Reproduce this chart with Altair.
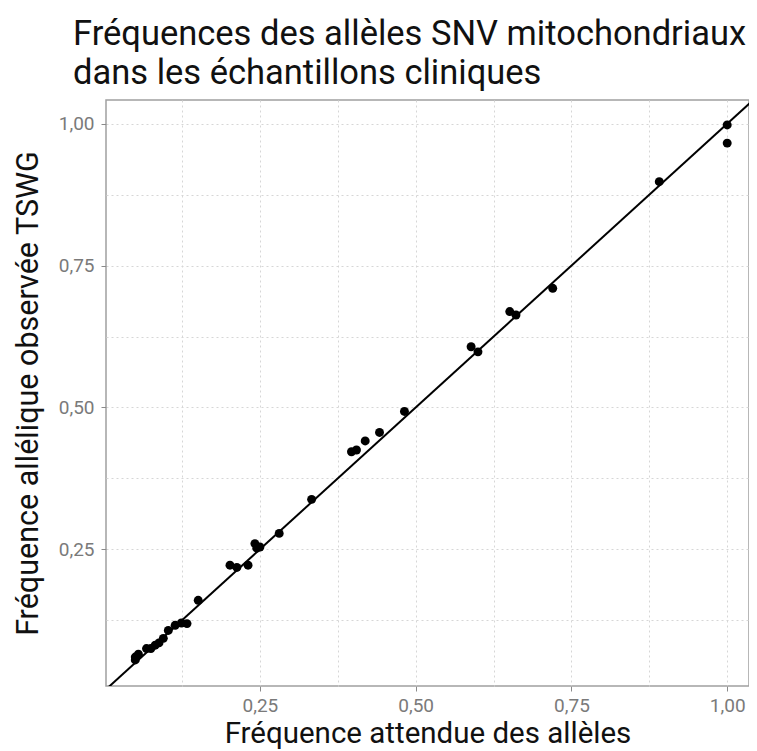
import altair as alt
import pandas as pd

expected = [0.050, 0.050, 0.055, 0.068, 0.075, 0.082, 0.088, 0.095, 0.103, 0.114,
            0.124, 0.133, 0.151, 0.202, 0.213, 0.231, 0.242, 0.250, 0.245, 0.281,
            0.333, 0.397, 0.405, 0.419, 0.442, 0.482, 0.589, 0.600, 0.651, 0.661,
            0.720, 0.891, 1.000, 1.000]
observed = [0.060, 0.055, 0.065, 0.075, 0.075, 0.081, 0.085, 0.093, 0.107, 0.116,
            0.120, 0.119, 0.160, 0.222, 0.218, 0.222, 0.260, 0.254, 0.252, 0.278,
            0.338, 0.422, 0.425, 0.441, 0.456, 0.493, 0.607, 0.598, 0.669, 0.663,
            0.710, 0.898, 0.998, 0.966]

# identity line y = x
line_vals = [0.0, 1.06]

major_ticks = [0.25, 0.50, 0.75, 1.00]
minor_ticks = [0.125, 0.375, 0.625, 0.875]

pts = pd.DataFrame({"attendue": expected, "observee": observed})
ref = pd.DataFrame({"attendue": line_vals, "observee": line_vals})

all_ticks = sorted(major_ticks + minor_ticks)
is_major = "datum.value % 0.25 == 0"
label_expr = f"{is_major} ? replace(format(datum.value, '.2f'), '.', ',') : ''"

FONT = "Roboto"


def make_axis(title, title_pad, title_size, label_pad):
    return alt.Axis(
        title=title,
        values=all_ticks,
        labelExpr=label_expr,
        grid=True,
        gridDash=[2, 3],
        gridColor="#d6d6d6",
        gridWidth=1,
        domain=False,
        tickColor="#8a8a8a",
        tickSize=5,
        tickOpacity={"expr": f"{is_major} ? 1 : 0"},
        labelFont=FONT,
        labelFontSize=19,
        labelColor="#7a7a7a",
        labelPadding=label_pad,
        titleFont=FONT,
        titleFontSize=title_size,
        titleFontWeight="normal",
        titleColor="#111111",
        titlePadding=title_pad,
    )


xsc = alt.Scale(domain=[0.003, 1.035], nice=False, zero=False)
ysc = alt.Scale(domain=[0.009, 1.042], nice=False, zero=False)

line = alt.Chart(ref).mark_line(color="black", strokeWidth=2, clip=True).encode(
    x=alt.X("attendue:Q", scale=xsc, axis=make_axis("Fréquence attendue des allèles", 4, 29.5, 5)),
    y=alt.Y("observee:Q", scale=ysc, axis=make_axis("Fréquence allélique observée TSWG", 15, 30.5, 7)),
)

points = alt.Chart(pts).mark_circle(color="black", opacity=1, size=80).encode(
    x=alt.X("attendue:Q", scale=xsc),
    y=alt.Y("observee:Q", scale=ysc),
)

chart = (
    alt.layer(line, points)
    .properties(
        width=643,
        height=586,
        autosize=alt.AutoSizeParams(type="none"),
        padding={"left": 98, "top": 92, "right": 0, "bottom": 65},
        background="white",
        title=alt.Title(
            ["Fréquences des allèles SNV mitochondriaux", "dans les échantillons cliniques"],
            anchor="start",
            frame="group",
            font=FONT,
            fontSize=34.5,
            fontWeight="normal",
            color="#111111",
            lineHeight=39,
            dx=-33,
            offset=9,
        ),
    )
    .configure_view(stroke="#a0a0a0", strokeWidth=1.5)
)

chart.save("out.html", embed_options={"renderer": "svg", "actions": False})
